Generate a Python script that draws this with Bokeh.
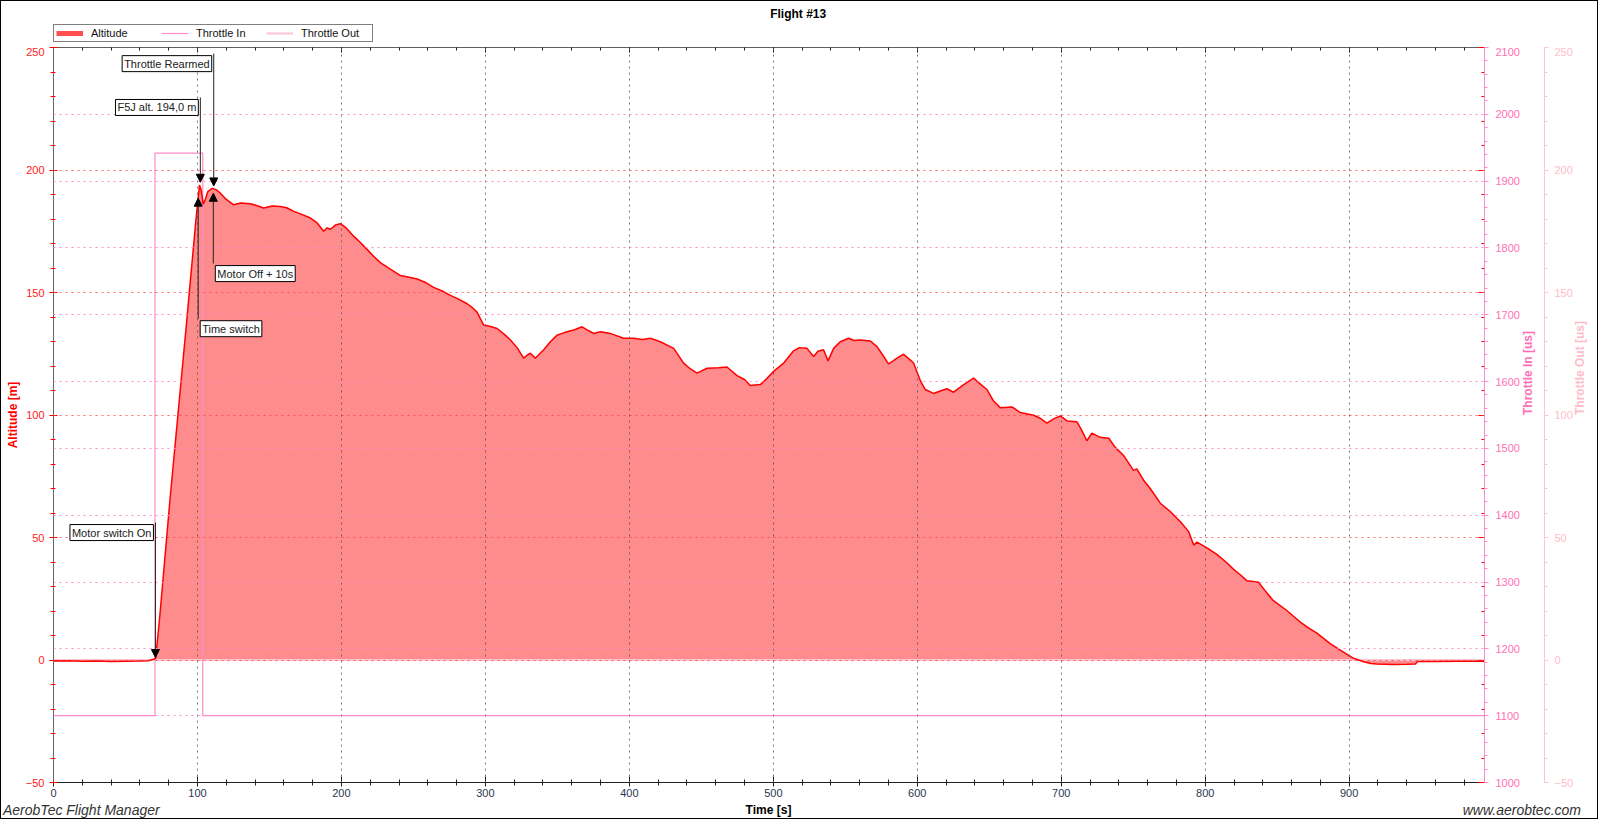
import math
from bokeh.plotting import figure
from bokeh.layouts import column
from bokeh.models import (Range1d, LinearAxis, SingleIntervalTicker, Grid, Legend, LegendItem,
                          Label, Arrow, NormalHead, CustomJSTickFormatter, Div)
from bokeh.embed import file_html
from bokeh.resources import INLINE

FONT = "Liberation Sans"

# ---------------- data ----------------
time_s = [0, 10, 20, 30, 40, 50, 60, 66, 70, 71, 74, 81, 92, 99, 101.4, 102.5, 104, 105.5, 107.2,
          110.2, 113, 116, 120, 125.2, 130, 136.8, 141, 146, 152, 157.6, 162, 166.9, 172, 178.5,
          183, 187.7, 190, 192.4, 196, 199.3, 203, 208.5, 213, 217.8, 222, 227, 234, 241, 247,
          252.6, 258, 264, 270, 275.7, 281, 287.3, 291, 294.2, 298.8, 303, 308.1, 313, 317.4, 322,
          326.6, 329, 331.2, 334.7, 340.5, 345, 349.8, 356.7, 362, 367.1, 371, 375.2, 380, 386.8,
          391, 396, 403, 409, 414.6, 421.5, 430.8, 437.7, 442, 447, 454, 462, 467.8, 474.8, 480,
          484, 491, 495, 500.2, 507.2, 514.1, 518, 523.4, 528, 531, 534.9, 538, 541.9, 546.5,
          552.3, 556, 560.4, 567.4, 572, 576, 580, 583, 585.9, 590.5, 594, 597.4, 602.3, 605.6,
          611.3, 616, 620.6, 625.2, 632, 639.1, 643, 648.4, 653, 657.6, 665.8, 671.5, 680.8, 685,
          690, 695, 699.3, 704, 710.9, 714, 717.8, 721.3, 727, 733, 737.5, 743.3, 750.2, 752.5,
          757.2, 761.8, 768.8, 775.7, 782.6, 788.4, 792, 794.3, 801.2, 808.1, 815, 819.7, 825,
          829, 837, 842, 847.4, 856.7, 866, 872, 877.6, 886.8, 893.8, 898, 903, 910, 915, 919,
          930, 940, 946, 947.5, 960, 975, 994]
altitude_m = [-0.4, -0.3, -0.5, -0.4, -0.6, -0.5, -0.4, -0.3, 0.4, 0.8, 19, 66, 135, 180, 193.9,
              192, 186, 188, 191.2, 192.5, 192, 190.5, 188, 185.8, 186.5, 186.2, 185.5, 184.5,
              185.3, 185.1, 184.6, 183.1, 182, 180.4, 178.5, 175, 176.4, 175.8, 177.6, 178.1,
              176.5, 173, 170.5, 167.6, 165, 162.2, 159.5, 156.9, 156.2, 155.5, 154.2, 152.1,
              150.6, 148.8, 147.4, 145.4, 143.8, 142, 136.7, 136.2, 135.3, 133, 130.6, 127.5,
              123.2, 124.4, 125.2, 123.2, 126.6, 129.8, 132.6, 134, 134.8, 136, 134.6, 133.3, 134,
              133.3, 132.4, 131.3, 131.3, 130.8, 131.3, 129.9, 127.2, 121.2, 119, 117.1, 119.1,
              119.3, 119.6, 116.1, 114.5, 112, 112.4, 114.6, 117.8, 121.2, 126.2, 127.5, 127.2,
              123.9, 126, 126.6, 122.1, 127.2, 129.9, 131.3, 130.4, 130.6, 130.2, 127.9, 124.5,
              120.9, 122, 123.2, 124.8, 123, 121.2, 113.8, 110.4, 108.8, 109.8, 110.7, 109.3,
              112.3, 115.1, 113, 110.4, 105.7, 103, 103.3, 101, 99.9, 98.8, 96.7, 98.5, 99.6, 97.6,
              97.2, 94, 89.5, 92.6, 90.9, 90.5, 86.8, 83.5, 77.4, 78, 73.4, 70, 64, 60.6, 56.5,
              52.5, 46.9, 48.1, 45.8, 43.1, 39.7, 37, 34.5, 32.3, 31.7, 28, 24.2, 20.2, 15.5, 13,
              11, 6.7, 4, 2.5, 0.7, -0.7, -1.4, -1.6, -1.8, -1.7, -1.6, -0.6, -0.6, -0.5, -0.5]

thr_time = [0, 70.5, 70.5, 103.7, 103.7, 994]
throttle_in_us = [1100, 1100, 1942, 1942, 1100, 1100]
out_time = [0, 994]
throttle_out_us = [0, 0]

event_names = ["Motor switch On", "Time switch", "F5J alt. 194,0 m", "Motor Off + 10s", "Throttle Rearmed"]
event_time = [70.8, 100.5, 102.0, 111.0, 111.3]
event_alt = [1.0, 188.5, 195.0, 190.5, 193.5]

# annotation layout: altitude of each label box top, and side of the arrow the box sits on
label_top = [56.1, 139.3, 229.6, 161.8, 247.5]
label_side = ["left", "right", "left", "right", "left"]

series_names = ["Altitude", "Throttle In", "Throttle Out"]
x_tick_step = 100
alt_tick_step = 50
thr_tick_step = 100

# ---------------- layout constants ----------------
FULL_W = 1582
LEFT_B, RIGHT_B = 52, 99
FRAME_W, FRAME_H = 1431, 735
HEADER_H, FOOTER_H = 46, 17
BOTTOM_B = 19

IN_COL = "#ff8cc6"
IN_TXT = "#ff6fb5"
OUT_COL = "#ffc4d2"
OUT_TXT = "#ffbccb"
ALT_LEG = "#ff5050"

# ---------------- header: title + legend (its frame lines up with the chart frame) ----------------
h = figure(width=FULL_W, height=HEADER_H, x_range=Range1d(0, FRAME_W), y_range=Range1d(0, HEADER_H),
           min_border=0, min_border_left=LEFT_B, min_border_right=RIGHT_B,
           toolbar_location=None, output_backend="svg",
           x_axis_location=None, y_axis_location=None, outline_line_color=None,
           background_fill_color="white", border_fill_color="white")
h.grid.visible = False
h.add_layout(Label(x=800 + 4 - LEFT_B, y=34, text="Flight #13", text_align="center",
                   text_baseline="middle", text_font=FONT, text_font_size="12px",
                   text_font_style="bold", text_color="#000000"))
lg_alt = h.line(time_s, altitude_m, line_color=ALT_LEG, line_width=5, visible=False)
lg_in = h.line(thr_time, throttle_in_us, line_color=IN_COL, line_width=1.2, visible=False)
lg_out = h.line(out_time, throttle_out_us, line_color=OUT_COL, line_width=2, visible=False)
legend = Legend(items=[LegendItem(label=series_names[0], renderers=[lg_alt]),
                       LegendItem(label=series_names[1], renderers=[lg_in]),
                       LegendItem(label=series_names[2], renderers=[lg_out])],
                orientation="horizontal", location=(0, 5),
                glyph_width=27, glyph_height=10, label_standoff=8, label_width=69, spacing=1,
                padding=2, margin=0, label_height=10,
                label_text_font=FONT, label_text_font_size="11px", label_text_color="#111111",
                border_line_color="#000000", border_line_width=1, background_fill_alpha=1.0)
h.add_layout(legend)

# ---------------- main chart ----------------
p = figure(frame_width=FRAME_W, frame_height=FRAME_H, output_backend="svg", toolbar_location=None,
           x_range=Range1d(0, 994), y_range=Range1d(-50, 250),
           min_border_left=LEFT_B, min_border_right=RIGHT_B, min_border_top=0,
           min_border_bottom=BOTTOM_B,
           background_fill_color="white", border_fill_color="white")
p.outline_line_color = "#606060"
p.extra_y_ranges = {"thr": Range1d(1000, 2100), "out": Range1d(-50, 250)}

x_ticker = SingleIntervalTicker(interval=x_tick_step, num_minor_ticks=5)
alt_ticker = SingleIntervalTicker(interval=alt_tick_step, num_minor_ticks=5)
thr_ticker = SingleIntervalTicker(interval=thr_tick_step, num_minor_ticks=5)
out_ticker = SingleIntervalTicker(interval=alt_tick_step, num_minor_ticks=5)
blank = CustomJSTickFormatter(code="return ''")

xax = p.xaxis[0]
xax.ticker = x_ticker
xax.major_label_text_font = FONT
xax.major_label_text_font_size = "11px"
xax.major_label_text_color = "#2c3550"
xax.major_label_standoff = 2
xax.major_tick_in = 6
xax.major_tick_out = 4
xax.minor_tick_in = 3
xax.minor_tick_out = 3
xax.axis_line_color = "#222222"
xax.major_tick_line_color = "#222222"
xax.minor_tick_line_color = "#222222"

yax = p.yaxis[0]
yax.ticker = alt_ticker
yax.axis_label = "Altitude [m]"
yax.axis_label_text_font = FONT
yax.axis_label_text_font_size = "12px"
yax.axis_label_text_font_style = "bold"
yax.axis_label_text_color = "#ff0000"
yax.axis_label_standoff = 3
yax.major_label_text_font = FONT
yax.major_label_text_font_size = "11px"
yax.major_label_text_color = "#ff2020"
yax.major_label_standoff = 5
yax.major_tick_in = 4
yax.major_tick_out = 4
yax.minor_tick_in = 2
yax.minor_tick_out = 3
yax.axis_line_color = "#666666"
yax.major_tick_line_color = "#ff0000"
yax.minor_tick_line_color = "#ff0000"

top_ax = LinearAxis(ticker=x_ticker, formatter=blank, major_tick_in=5, major_tick_out=0,
                    minor_tick_in=3, minor_tick_out=0, major_label_standoff=0,
                    major_label_text_font_size="0px",
                    axis_line_color="#606060", major_tick_line_color="#222222",
                    minor_tick_line_color="#222222")
p.add_layout(top_ax, "above")

r_mirror = LinearAxis(ticker=alt_ticker, formatter=blank, major_tick_in=6, major_tick_out=0,
                      minor_tick_in=3, minor_tick_out=0, major_label_standoff=5,
                      major_label_text_font_size="0px",
                      axis_line_color="#606060", major_tick_line_color="#ff0000",
                      minor_tick_line_color="#ff0000")
p.add_layout(r_mirror, "right")

ax_in = LinearAxis(y_range_name="thr", ticker=thr_ticker, axis_label="Throttle In  [us]",
                   axis_label_orientation=math.pi / 2, major_label_standoff=7,
                   axis_label_standoff=5)
ax_out = LinearAxis(y_range_name="out", ticker=out_ticker, axis_label="Throttle Out  [us]",
                    axis_label_orientation=math.pi / 2, major_label_standoff=6,
                    axis_label_standoff=4)
for ax, col, txt in ((ax_in, IN_COL, IN_TXT), (ax_out, OUT_COL, OUT_TXT)):
    ax.axis_label_text_font = FONT
    ax.axis_label_text_font_size = "12px"
    ax.axis_label_text_font_style = "bold"
    ax.axis_label_text_color = txt
    ax.major_label_text_font = FONT
    ax.major_label_text_font_size = "11px"
    ax.major_label_text_color = txt
    ax.major_tick_in = 0
    ax.major_tick_out = 4
    ax.minor_tick_in = 0
    ax.minor_tick_out = 3
    ax.axis_line_color = col
    ax.major_tick_line_color = col
    ax.minor_tick_line_color = col
    p.add_layout(ax, "right")

p.xgrid.ticker = x_ticker
p.xgrid.grid_line_color = "#555555"
p.xgrid.grid_line_alpha = 0.8
p.xgrid.grid_line_dash = "2 4"
p.xgrid.level = "guide"
p.ygrid.ticker = alt_ticker
p.ygrid.grid_line_color = "#ff3a3a"
p.ygrid.grid_line_alpha = 0.75
p.ygrid.grid_line_dash = "2 4"
p.ygrid.level = "guide"
thr_grid = Grid(dimension=1, ticker=thr_ticker, y_range_name="thr", grid_line_color="#ff8cc6",
                grid_line_dash="2 4", level="guide")
p.add_layout(thr_grid)

p.varea(x=time_s, y1=0, y2=altitude_m, fill_color="#ff8c8c", fill_alpha=1.0)
p.line(out_time, throttle_out_us, y_range_name="out", line_color=OUT_COL, line_width=2)
p.line(thr_time, throttle_in_us, y_range_name="thr", line_color=IN_COL, line_width=1.2)
p.line(time_s, altitude_m, line_color="#ff0000", line_width=1.5)

for name, t, a, top, side in zip(event_names, event_time, event_alt, label_top, label_side):
    p.add_layout(Arrow(end=NormalHead(size=8, fill_color="#000000", line_color="#000000", line_width=1),
                       x_start=t, y_start=top, x_end=t, y_end=a,
                       line_color="#222222", line_width=1))
    p.add_layout(Label(x=t, y=top, text=name,
                       text_align="right" if side == "left" else "left", text_baseline="top",
                       x_offset=-2 if side == "left" else 2, y_offset=-2,
                       text_font=FONT, text_font_size="11px", text_color="#202020",
                       background_fill_color="white", background_fill_alpha=1.0,
                       border_line_color="#000000", border_line_width=1, padding=2))

# ---------------- footer: program name, x-axis title, website ----------------
time_center = LEFT_B + FRAME_W / 2
footer_html = (
    f'<div style="position:relative;width:{FULL_W}px;height:{FOOTER_H}px;'
    f'font-family:\'{FONT}\';color:#333333;background:white;overflow:visible;">'
    f'<span style="position:absolute;left:2px;bottom:0px;font-size:14px;font-style:italic;'
    f'line-height:16px;white-space:nowrap;">AerobTec Flight Manager</span>'
    f'<span style="position:absolute;left:{time_center}px;bottom:1px;transform:translateX(-50%);'
    f'font-size:12px;font-weight:bold;color:#000000;line-height:14px;white-space:nowrap;">Time [s]</span>'
    f'<span style="position:absolute;right:2px;bottom:0px;font-size:14px;font-style:italic;'
    f'line-height:16px;white-space:nowrap;">www.aerobtec.com</span>'
    f'</div>'
)
f = Div(text=footer_html, width=FULL_W, height=FOOTER_H, margin=0)

layout = column(h, p, f, spacing=0, styles={"border": "1px solid black"})
open("out.html", "w").write(file_html(layout, INLINE))
